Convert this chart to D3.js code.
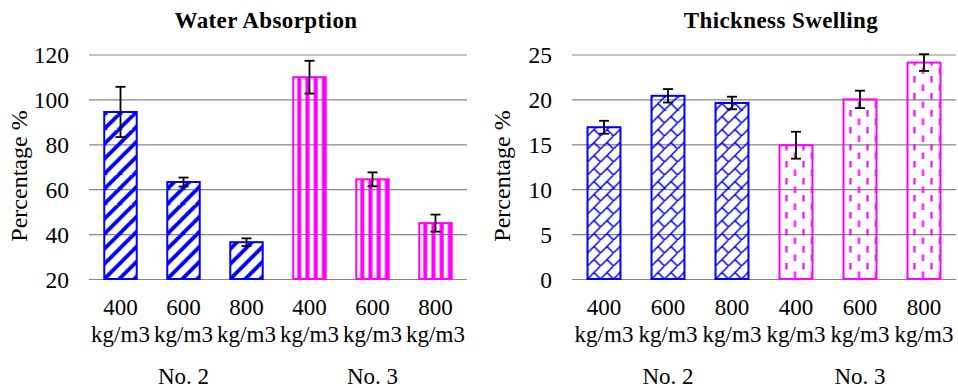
<!DOCTYPE html>
<html>
<head>
<meta charset="utf-8">
<script src="https://cdn.jsdelivr.net/npm/d3@7"></script>
<style>
  body { margin: 0; background: #fff; }
</style>
</head>
<body>
<svg id="chart" width="958" height="388"></svg>
<script>
// data
const densities = ["400", "600", "800", "400", "600", "800"];
const boards = ["No. 2", "No. 3"];
const boardOf = [0, 0, 0, 1, 1, 1];
const absorption = [94.4, 63.2, 36.4, 109.9, 64.4, 44.9];
const absorptionErr = [11.2, 2.0, 1.7, 7.3, 3.1, 3.8];
const swelling = [16.9, 20.4, 19.6, 14.9, 20.0, 24.1];
const swellingErr = [0.72, 0.75, 0.7, 1.5, 0.97, 0.93];
const absorptionTicks = [20, 40, 60, 80, 100, 120];
const swellingTicks = [0, 5, 10, 15, 20, 25];

const BLUE = "#0000ff", MAGENTA = "#ff00ff";
const FONT = "'Liberation Serif', 'Times New Roman', serif";

let svg = d3.select("#chart");
let defs = svg.append("defs");

// pattern painters, one per fill style
let painters = {
  diag: (p) => {
    p.attr("width", 15).attr("height", 15);
    p.append("path")
      .attr("d", "M-4,4L4,-4M0,15L15,0M11,19L19,11")
      .attr("stroke", BLUE).attr("stroke-width", 3.8);
  },
  vert: (p) => {
    p.attr("width", 8.2).attr("height", 8);
    p.append("rect").attr("x", 4).attr("y", 0).attr("width", 4).attr("height", 8).attr("fill", MAGENTA);
  },
  shingle: (p) => {
    p.attr("width", 13).attr("height", 13);
    p.append("path")
      .attr("d", "M-1,14L14,-1M6.5,6.5L13,13")
      .attr("stroke", BLUE).attr("stroke-width", 1.5).attr("fill", "none");
  },
  dash: (p) => {
    p.attr("width", 17).attr("height", 17);
    p.append("path")
      .attr("d", "M7,1V7.5M15.5,9.5V16")
      .attr("stroke", MAGENTA).attr("stroke-width", 2.2);
  }
};

function drawChart(cfg) {
  let x = d3.scaleBand()
    .domain(d3.range(cfg.values.length))
    .range([cfg.left, cfg.right])
    .paddingInner(0.485).paddingOuter(0.2425);

  let y = d3.scaleLinear()
    .domain(d3.extent(cfg.ticks))
    .range([279, 54.5]);

  let g = svg.append("g");

  // gridlines + tick labels
  let yAxis = g.append("g")
    .attr("transform", `translate(${cfg.left},0)`)
    .call(d3.axisLeft(y)
      .tickValues(cfg.ticks)
      .tickSize(-(cfg.right - cfg.left))
      .tickPadding(20));
  yAxis.select(".domain").remove();
  yAxis.selectAll(".tick line").attr("stroke", "#868686").attr("stroke-width", 1.2);
  yAxis.selectAll(".tick text")
    .style("font-family", FONT).style("font-size", "23.5px")
    .attr("fill", "#000").attr("dy", "0.34em");

  // per-bar patterns so the hatch lines up with each bar
  cfg.values.forEach((v, i) => {
    let p = defs.append("pattern")
      .attr("id", `${cfg.id}-p${i}`)
      .attr("patternUnits", "userSpaceOnUse")
      .attr("x", x(i)).attr("y", y(cfg.ticks[0]));
    painters[cfg.fills[boardOf[i]]](p);
  });

  g.append("g").selectAll("rect")
    .data(cfg.values)
    .join("rect")
    .attr("x", (d, i) => x(i))
    .attr("y", d => y(d))
    .attr("width", x.bandwidth())
    .attr("height", d => y(cfg.ticks[0]) - y(d))
    .attr("fill", (d, i) => `url(#${cfg.id}-p${i})`)
    .attr("stroke", (d, i) => boardOf[i] === 0 ? BLUE : MAGENTA)
    .attr("stroke-width", 2);

  // error bars
  let err = g.append("g").selectAll("g")
    .data(cfg.values)
    .join("g")
    .attr("stroke", "#000")
    .attr("stroke-width", 1.8);
  let cx = i => x(i) + x.bandwidth() / 2;
  err.append("line")
    .attr("x1", (d, i) => cx(i)).attr("x2", (d, i) => cx(i))
    .attr("y1", (d, i) => y(d + cfg.errors[i]))
    .attr("y2", (d, i) => y(d - cfg.errors[i]));
  [1, -1].forEach(sign => {
    err.append("line")
      .attr("x1", (d, i) => cx(i) - 5).attr("x2", (d, i) => cx(i) + 5)
      .attr("y1", (d, i) => y(d + sign * cfg.errors[i]))
      .attr("y2", (d, i) => y(d + sign * cfg.errors[i]));
  });

  // category labels
  let lab = g.append("g").selectAll("text")
    .data(densities)
    .join("text")
    .attr("text-anchor", "middle")
    .style("font-family", FONT).style("font-size", "23px");
  lab.append("tspan")
    .attr("x", (d, i) => cx(i)).attr("y", 315)
    .text(d => d);
  lab.append("tspan")
    .attr("x", (d, i) => cx(i)).attr("y", 342)
    .text("kg/m3");

  // board group labels under the middle bar of each group
  g.append("g").selectAll("text")
    .data(boards)
    .join("text")
    .attr("text-anchor", "middle")
    .style("font-family", FONT).style("font-size", "23px")
    .attr("x", (d, k) => cx(k * 3 + 1))
    .attr("y", 384)
    .text(d => d);

  g.append("text")
    .attr("text-anchor", "middle")
    .style("font-family", FONT).style("font-size", "23px")
    .attr("font-weight", "bold")
    .attr("letter-spacing", 0.4)
    .attr("x", cfg.titleX).attr("y", 28)
    .text(cfg.title);

  g.append("text")
    .attr("text-anchor", "middle")
    .style("font-family", FONT).style("font-size", "24px")
    .attr("transform", `translate(${cfg.left - 62},176) rotate(-90)`)
    .text("Percentage %");
}

drawChart({
  id: "wa", title: "Water Absorption", titleX: 266,
  left: 89, right: 467,
  values: absorption, errors: absorptionErr, ticks: absorptionTicks,
  fills: ["diag", "vert"]
});

drawChart({
  id: "ts", title: "Thickness Swelling", titleX: 781,
  left: 572, right: 956,
  values: swelling, errors: swellingErr, ticks: swellingTicks,
  fills: ["shingle", "dash"]
});
</script>
</body>
</html>
